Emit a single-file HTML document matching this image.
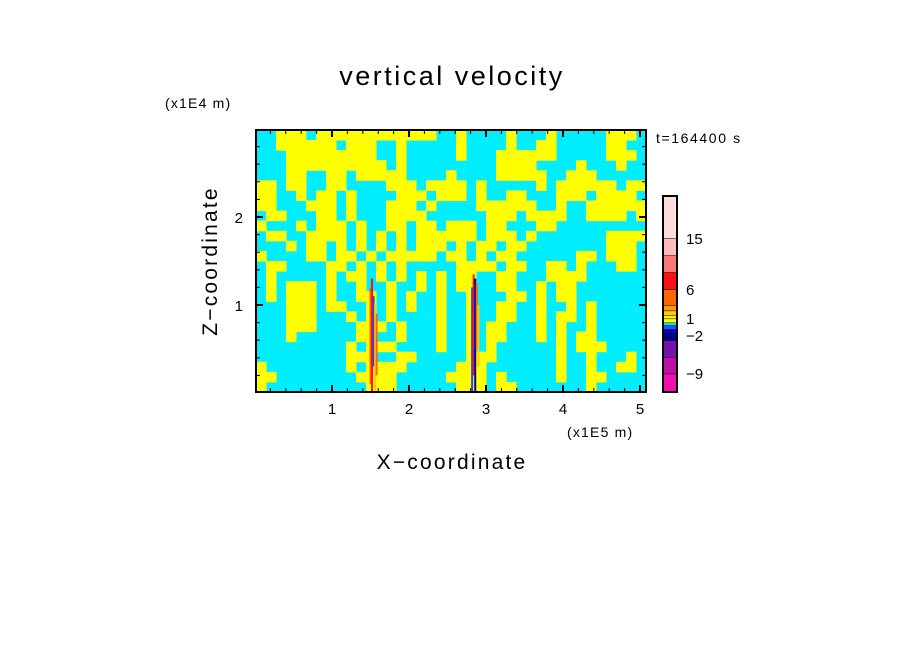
<!DOCTYPE html>
<html><head><meta charset="utf-8"><style>
body{margin:0;background:#fff;width:904px;height:654px;overflow:hidden}
svg{display:block;font-family:"Liberation Sans",sans-serif}
</style></head><body>
<svg id="s" width="904" height="654">
<text x="452" y="85" font-size="27" letter-spacing="2.5" text-anchor="middle">vertical velocity</text>
<text x="165" y="108" font-size="14" letter-spacing="1.2">(x1E4 m)</text>
<text x="656" y="143" font-size="14" letter-spacing="1.6">t=164400 s</text>
<text x="567" y="437" font-size="14" letter-spacing="1.2">(x1E5 m)</text>
<text x="452" y="469" font-size="21" letter-spacing="2.2" text-anchor="middle">X−coordinate</text>
<text transform="translate(217,261) rotate(-90)" font-size="21" letter-spacing="2.2" text-anchor="middle">Z−coordinate</text>
<g id="field"></g>
<g id="axes"></g>
<g id="cbar"></g>
</svg>
<script>
const gridRows=[
"ccyyycyyyyyyyyyyyycc"+"yccccycccycccccyyyc",
"ccyyyyyycyyyccyccccc"+"yccccyccyycccccyycc",
"cccyyyyyyyyyccyccccc"+"ycccyyyyyycccccyyyc",
"cccyyyyyyyyyycyccccc"+"ccccyyyyccccycccycc",
"cccyyccyycyyyyyccccy"+"ccccyyyyyccyyyccccc",
"yycyyccyyccccyyycyyy"+"ycycccccycyyyyyycyy",
"yyccycyycyccccyyycyy"+"ycyccyycccyyycyyyyc",
"yycccyyycycccyyycycc"+"ccyyyyyyccyccyyyyyy",
"cyycccyycycccyyyyccc"+"cccyyycyyyyccyyyycy",
"ycccycyyycyccyycyycy"+"yycyycccyyccccccccc",
"cyyccyyyycycycycyyyy"+"yycyyycycccccccyyyy",
"cccycyycycycycycyyyc"+"ycyycyyccccccccyyyc",
"yccccyycyycycyyyyycy"+"ycycyyccccccyycyyyc",
"cyyccccyycycycyccccc"+"yyyycyyccyycycccyyc",
"cycccccycyycycycycyc"+"yyccyycccyyyycccccc",
"cycyyycyccyccyccycyc"+"yyccyyccycyyccccccc",
"cycyyycyccyycycyccyc"+"cycccyycycyyccccccc",
"cccyyycyyccycycyccyc"+"cyccyyccyccycyccccc",
"cccyyycccycycyccccyc"+"cyccyyccycyycyccccc",
"cccyyyccccyyycycccyc"+"cycyycccycyccyccccc",
"cccyccccccyyccycccyc"+"cycyycccycycyyccccc",
"cccccccccycyyyccccyc"+"cycyccccccycyyycccc",
"cccccccccyyyccyycccc"+"cyyyccccccyccycccyc",
"yccccccccycyyyyccccc"+"yyycccccccyccyccyyc",
"yyccccccccyyyycccccy"+"yyycycccccyccyycccc",
"yccccccccccyyycccccc"+"yyycyycccccccyccccc"];
const plumeX=[1.50,1.52,1.54,1.56,1.58,2.82,2.84,2.86,2.88,2.90];
const plumeZ0=[0.1,0.0,0.3,0.0,0.2,0.0,0.2,0.0,0.5,0.3];
const plumeZ1=[1.2,1.3,1.1,1.0,0.9,1.2,1.35,1.3,1.25,1.0];
const plumeColor=["#ff6600","#ff1111","#2244ff","#ffcc00","#ff6600","#2244ff","#ff1111","#0000aa","#ff6600","#ffcc00"];
const cbColors=["#ee11aa","#bb11aa","#7711aa","#000088","#0000cc","#2255ff","#00eeff","#ffff00","#ffee00","#ffcc00","#ff9900","#ff6600","#ff1111","#ff7777","#ffbbbb","#ffdddd"];
const cbHeights=[18.4,16.6,16.7,6.7,4.3,4,2.7,4,3.3,4.7,5.3,16,17,17,17.3,42];
const cbTickLabels=["−9","−2","1","6","15"];
const cbTickPos=[19,57,74,103,154];
const xTicks=[1,2,3,4,5], zTicks=[1,2];
const X0=255,PX=77,Z0=393,PZ=88,L=256,R=646,T=130,B=392;
const sx=v=>X0+v*PX, sz=v=>Z0-v*PZ;
const NS="http://www.w3.org/2000/svg";
function mk(p,t,a){const e=document.createElementNS(NS,t);for(const k in a)e.setAttribute(k,a[k]);p.appendChild(e);return e;}
const f=document.getElementById('field');
const bg=mk(f,'rect',{x:L,y:T,width:R-L,height:B-T,fill:'#00eeff'});


const cw=(R-L)/39, ch=(B-T)/26;
gridRows.forEach((row,r)=>{for(let c=0;c<39;c++){if((row[c]||'c')==='y'){
 const e=mk(f,'rect',{x:L+c*cw,y:T+r*ch,width:cw+0.5,height:ch+0.5,fill:'#ffff00'});
 
 }}});
plumeX.forEach((x,i)=>{const e=mk(f,'rect',{x:sx(x)-1,y:sz(plumeZ1[i]),width:2,height:sz(plumeZ0[i])-sz(plumeZ1[i]),fill:plumeColor[i]});
 
 });
const a=document.getElementById('axes');
const fr=mk(a,'rect',{x:L,y:T,width:R-L,height:B-T,fill:'none',stroke:'#000','stroke-width':2});


for(let v=0.2;v<5.12;v+=0.2){const x=sx(v),maj=Math.abs(v-Math.round(v))<0.01,l=maj?7:4;
 mk(a,'line',{x1:x,x2:x,y1:B,y2:B-l,stroke:'#000','stroke-width':maj?2:1});mk(a,'line',{x1:x,x2:x,y1:T,y2:T+l,stroke:'#000','stroke-width':maj?2:1});}
for(let v=0.2;v<2.98;v+=0.2){const y=sz(v),maj=Math.abs(v-Math.round(v))<0.01,l=maj?7:4;
 mk(a,'line',{x1:L,x2:L+l,y1:y,y2:y,stroke:'#000','stroke-width':maj?2:1});mk(a,'line',{x1:R,x2:R-l,y1:y,y2:y,stroke:'#000','stroke-width':maj?2:1});}
xTicks.forEach(v=>{const t=mk(a,'text',{x:sx(v),y:414,'font-size':15,'text-anchor':'middle'});t.textContent=v;
 
 });
zTicks.forEach(v=>{const t=mk(a,'text',{x:243,y:sz(v)+6,'font-size':15,'text-anchor':'end'});t.textContent=v;
 
 });
const cb=document.getElementById('cbar');
const tot=cbHeights.reduce((s,v)=>s+v,0),CT=196,CB=392,CL=663,CW=14,u=(CB-CT)/tot;
let acc=0;
cbColors.forEach((c,i)=>{const h=cbHeights[i]*u;const e=mk(cb,'rect',{x:CL,y:CB-(acc+cbHeights[i])*u,width:CW,height:h,fill:c});acc+=cbHeights[i];
 
 
 if(i<cbColors.length-1)mk(cb,'line',{x1:CL,x2:CL+CW,y1:CB-acc*u,y2:CB-acc*u,stroke:'#000','stroke-width':1});});
mk(cb,'rect',{x:CL,y:CT,width:CW,height:CB-CT,fill:'none',stroke:'#000','stroke-width':2});
cbTickLabels.forEach((s,i)=>{const t=mk(cb,'text',{x:686,y:CB-cbTickPos[i]*u+6,'font-size':15});t.textContent=s;
 
 });
</script>
</body></html>
